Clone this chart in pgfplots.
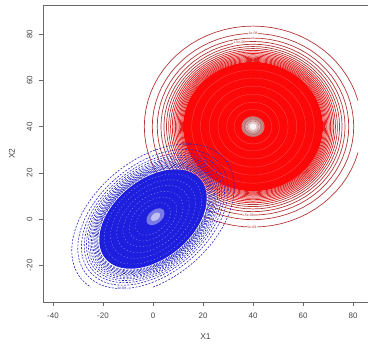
\documentclass[border=0pt]{standalone}
\usepackage{pgfplots}
\usepackage{pgfplotstable}
\pgfplotsset{compat=1.18}
\usepackage{fontspec}
\setmainfont{Liberation Sans}
\definecolor{ringred}{RGB}{180,55,55}
\definecolor{midred}{RGB}{225,35,35}
\definecolor{densered}{RGB}{252,8,8}
\definecolor{ringblue}{RGB}{40,40,195}
\definecolor{denseblue}{RGB}{30,30,222}
\definecolor{speck}{RGB}{150,150,240}
\definecolor{axgray}{RGB}{105,105,105}
\definecolor{txtgray}{RGB}{70,70,70}
\pgfplotstableread{
c s
1.0000 0.0000
0.9962 0.0872
0.9848 0.1736
0.9659 0.2588
0.9397 0.3420
0.9063 0.4226
0.8660 0.5000
0.8192 0.5736
0.7660 0.6428
0.7071 0.7071
0.6428 0.7660
0.5736 0.8192
0.5000 0.8660
0.4226 0.9063
0.3420 0.9397
0.2588 0.9659
0.1736 0.9848
0.0872 0.9962
0.0000 1.0000
-0.0872 0.9962
-0.1736 0.9848
-0.2588 0.9659
-0.3420 0.9397
-0.4226 0.9063
-0.5000 0.8660
-0.5736 0.8192
-0.6428 0.7660
-0.7071 0.7071
-0.7660 0.6428
-0.8192 0.5736
-0.8660 0.5000
-0.9063 0.4226
-0.9397 0.3420
-0.9659 0.2588
-0.9848 0.1736
-0.9962 0.0872
-1.0000 0.0000
-0.9962 -0.0872
-0.9848 -0.1736
-0.9659 -0.2588
-0.9397 -0.3420
-0.9063 -0.4226
-0.8660 -0.5000
-0.8192 -0.5736
-0.7660 -0.6428
-0.7071 -0.7071
-0.6428 -0.7660
-0.5736 -0.8192
-0.5000 -0.8660
-0.4226 -0.9063
-0.3420 -0.9397
-0.2588 -0.9659
-0.1736 -0.9848
-0.0872 -0.9962
0.0000 -1.0000
0.0872 -0.9962
0.1736 -0.9848
0.2588 -0.9659
0.3420 -0.9397
0.4226 -0.9063
0.5000 -0.8660
0.5736 -0.8192
0.6428 -0.7660
0.7071 -0.7071
0.7660 -0.6428
0.8192 -0.5736
0.8660 -0.5000
0.9063 -0.4226
0.9397 -0.3420
0.9659 -0.2588
0.9848 -0.1736
0.9962 -0.0872
1.0000 0.0000
}\unitring
\begin{document}
\begin{tikzpicture}
\begin{axis}[
  scale only axis, width=325bp, height=297bp,
  xmin=-44, xmax=86, ymin=-35.9, ymax=92.6,
  axis x line*=box, axis y line*=left,
  xtick pos=left, ytick pos=left,
  axis line style={axgray, line width=0.6bp},
  xtick={-40,-20,0,20,40,60,80},
  ytick={-20,0,20,40,60,80},
  tick align=outside, major tick length=4bp,
  tick style={axgray, line width=0.6bp},
  /pgf/number format/assume math mode=true,
  tick label style={font=\fontsize{8}{9}\selectfont, text=txtgray},
  xticklabel style={yshift=-3bp},
  yticklabel style={rotate=90, anchor=south, yshift=3bp},
  xlabel={X1}, ylabel={X2},
  xlabel style={at={(axis description cs:0.5,-0.1178)}, anchor=center, font=\fontsize{8.5}{10}\selectfont, text=txtgray},
  ylabel style={at={(axis description cs:-0.0954,0.5)}, anchor=center, font=\fontsize{8.5}{10}\selectfont, text=txtgray},
  unbounded coords=jump,
  clip=true,
]
\coordinate (ll) at (rel axis cs:0,0);
\coordinate (ur) at (rel axis cs:1,1);
% red dense core
\addplot[draw=none, fill=densered] table[x expr=40+28.0*\thisrow{c}, y expr=40+28.0*\thisrow{s}] {\unitring};
\pgfplotsinvokeforeach{24.5,21.0,17.5,14.0,10.5,7.5}{
  \addplot[line width=0.3bp, color={rgb,255:red,255;green,80;blue,80}] table[x expr=40+#1*\thisrow{c}, y expr=40+#1*\thisrow{s}] {\unitring};
}
% red contour rings (radii)
\pgfplotsinvokeforeach{40.29,38.30,36.82,35.63,34.63,33.76}{
  \addplot[ringred, line width=0.7bp] table[x expr=40+#1*\thisrow{c}, y expr=40+#1*\thisrow{s}] {\unitring};
}
\pgfplotsinvokeforeach{32.98,32.29,31.65,31.06,30.52,30.01,29.53,29.08,28.64,28.23}{
  \addplot[midred, line width=0.75bp] table[x expr=40+#1*\thisrow{c}, y expr=40+#1*\thisrow{s}] {\unitring};
}
\addplot[ringred, line width=0.7bp, restrict x to domain=-100:82] table[x expr=40+43.48*\thisrow{c}, y expr=40+43.48*\thisrow{s}] {\unitring};
% red centre
\addplot[draw=none, fill={rgb,255:red,205;green,135;blue,135}] table[x expr=40+4.6*\thisrow{c}, y expr=40+4.4*\thisrow{s}] {\unitring};
\addplot[draw=none, fill={rgb,255:red,225;green,195;blue,195}] table[x expr=40+2.8*\thisrow{c}, y expr=40+2.7*\thisrow{s}] {\unitring};
\pgfplotsinvokeforeach{4.16,3.40,2.40}{
  \addplot[line width=0.4bp, color={rgb,255:red,170;green,110;blue,110}] table[x expr=40+#1*\thisrow{c}, y expr=40+#1*\thisrow{s}] {\unitring};
}
\addplot[draw=none, fill={rgb,255:red,248;green,242;blue,242}] table[x expr=40+1.3*\thisrow{c}, y expr=40+1.3*\thisrow{s}] {\unitring};
% blue dense core
\addplot[draw=none, fill=denseblue] table[x expr=21.5*\thisrow{c}, y expr=21.5*(0.42*\thisrow{c}+0.9075*\thisrow{s})] {\unitring};
\pgfplotsinvokeforeach{19.5,17.0,14.5,12.0,9.5,7.0}{
  \addplot[speck, line width=0.35bp, dash pattern=on 1.2bp off 2.2bp] table[x expr=#1*\thisrow{c}, y expr=#1*(0.42*\thisrow{c}+0.9075*\thisrow{s})] {\unitring};
}
% blue dashed contours
\pgfplotsinvokeforeach{32.50,30.10,28.63,27.52,26.63,25.89,25.24,24.65,24.13,23.65,23.22,22.81,22.43,22.07}{
  \addplot[ringblue, line width=0.6bp, dash pattern=on 2bp off 1.4bp, restrict y to domain=-30.3:200] table[x expr=#1*\thisrow{c}, y expr=#1*(0.42*\thisrow{c}+0.9075*\thisrow{s})] {\unitring};
}
% blue centre streak
\addplot[draw=none, fill={rgb,255:red,120;green,120;blue,230}] table[x expr=1+3.6*\thisrow{c}, y expr=1+3.6*(0.42*\thisrow{c}+0.9075*\thisrow{s})] {\unitring};
\addplot[draw=none, fill={rgb,255:red,190;green,190;blue,240}] table[x expr=1+1.8*\thisrow{c}, y expr=1+1.8*(0.42*\thisrow{c}+0.9075*\thisrow{s})] {\unitring};
% contour labels
\node[font=\fontsize{3.5}{4}\selectfont, text=ringred, fill=white, inner sep=0.3pt] at (axis cs:40,80.29) {1e-08};
\node[font=\fontsize{3.5}{4}\selectfont, text=ringred, fill=white, inner sep=0.3pt] at (axis cs:34.5,76.6) {1.5e-08};
\node[font=\fontsize{3.5}{4}\selectfont, text=ringred, fill=white, inner sep=0.3pt] at (axis cs:38,1.7) {1.5e-08};
\node[font=\fontsize{3.5}{4}\selectfont, text=ringred, fill=white, inner sep=0.3pt] at (axis cs:39.5,-3.48) {5e-09};
\node[font=\fontsize{3.5}{4}\selectfont, text=ringblue, inner sep=0.3pt] at (axis cs:13.6,32.5) {1e-08};
\node[font=\fontsize{3.5}{4}\selectfont, text=ringblue, fill=white, inner sep=0.3pt] at (axis cs:-12.5,-30.0) {2e-08};
\end{axis}
\pgfresetboundingbox
\path ([xshift=-43bp,yshift=-45bp]ll) rectangle ([yshift=5bp]ur);
\end{tikzpicture}
\end{document}
